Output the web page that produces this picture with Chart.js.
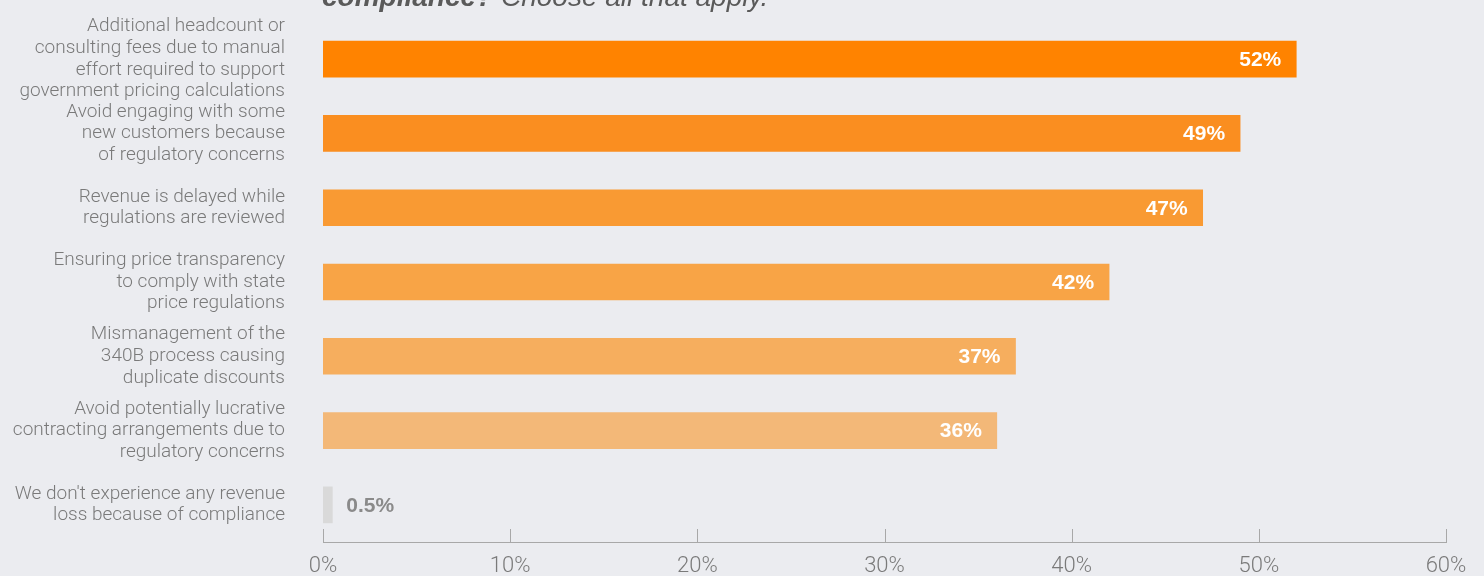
<!DOCTYPE html>
<html>
<head>
<meta charset="utf-8">
<script src="https://cdn.jsdelivr.net/npm/chart.js@4.4.1/dist/chart.umd.min.js"></script>
<style>
  html, body { margin: 0; padding: 0; background: #ebecf0; }
  #wrap { position: relative; width: 1484px; height: 576px; overflow: hidden; }
  #revenueLoss { display: block; }
  #question {
    position: absolute; left: 322px; top: -18px;
    font: italic 28px/30px "Liberation Sans", Arial, sans-serif;
    color: #5a5a5a; white-space: nowrap;
  }
  #question b { font-weight: bold; }
</style>
</head>
<body>
<div id="wrap">
  <div id="question"><b>compliance?</b> Choose all that apply.</div>
  <canvas id="revenueLoss" width="1484" height="576"></canvas>
</div>
<script>
var reasons = [
  ['Additional headcount or', 'consulting fees due to manual', 'effort required to support', 'government pricing calculations'],
  ['Avoid engaging with some', 'new customers because', 'of regulatory concerns'],
  ['Revenue is delayed while', 'regulations are reviewed'],
  ['Ensuring price transparency', 'to comply with state', 'price regulations'],
  ['Mismanagement of the', '340B process causing', 'duplicate discounts'],
  ['Avoid potentially lucrative', 'contracting arrangements due to', 'regulatory concerns'],
  ["We don't experience any revenue", 'loss because of compliance']
];
var shares = [52, 49, 47, 42, 37, 36, 0.5];
var barColors = ['#ff8300', '#fa8e20', '#f99a33', '#f8a446', '#f6ae5e', '#f3b878', '#d9d9d9'];
var axisTicks = [0, 10, 20, 30, 40, 50, 60];

// percent labels at the end of each bar, outside for the tiny one
var valueLabels = {
  id: 'valueLabels',
  afterDatasetsDraw: function ( chart ) {
    var ctx = chart.ctx;
    var meta = chart.getDatasetMeta( 0 );
    ctx.save();
    ctx.font = 'bold 21px "Liberation Sans", Arial, sans-serif';
    ctx.textBaseline = 'middle';
    meta.data.forEach( function ( bar, i ) {
      var v = shares[i];
      var txt = v + '%';
      if ( v < 5 ) {
        ctx.fillStyle = '#8a8a8a';
        ctx.textAlign = 'left';
        ctx.fillText( txt, bar.x + 14, bar.y + 1 );
      } else {
        ctx.fillStyle = '#ffffff';
        ctx.textAlign = 'right';
        ctx.fillText( txt, bar.x - 15, bar.y + 1 );
      }
    } );
    ctx.restore();
  }
};

// small tick marks standing up from the x axis line
var upTicks = {
  id: 'upTicks',
  afterDraw: function ( chart ) {
    var ctx = chart.ctx;
    var x = chart.scales.x;
    ctx.save();
    ctx.strokeStyle = '#a8a8a8';
    ctx.lineWidth = 1;
    axisTicks.forEach( function ( t ) {
      var px = Math.round( x.getPixelForValue( t ) ) + 0.5;
      ctx.beginPath();
      ctx.moveTo( px, x.top );
      ctx.lineTo( px, x.top - 13 );
      ctx.stroke();
    } );
    ctx.restore();
  }
};

var ctx = document.getElementById( 'revenueLoss' ).getContext( '2d' );
var myChart = new Chart( ctx, {
  type: 'bar',
  data: {
    labels: reasons,
    datasets: [
      {
        data: shares,
        backgroundColor: barColors,
        barThickness: 36,
        borderWidth: 0
      }
    ]
  },
  options: {
    indexAxis: 'y',
    responsive: false,
    animation: false,
    layout: { padding: { top: 22, right: 38, bottom: 0, left: 0 } },
    plugins: {
      legend: { display: false },
      tooltip: { enabled: false }
    },
    scales: {
      x: {
        min: 0,
        max: 60,
        afterBuildTicks: function ( s ) {
          s.ticks = axisTicks.map( function ( v ) { return { value: v }; } );
        },
        grid: { display: false, drawTicks: false },
        border: { display: true, color: '#a8a8a8', width: 1 },
        ticks: {
          padding: 11,
          maxRotation: 0,
          color: '#7a7a7a',
          font: { family: 'Roboto', size: 22, weight: '300' },
          callback: function ( v ) { return v + '%'; }
        },
        afterFit: function ( s ) {
          s.height = 34;
          s.paddingLeft = 0;
          s.paddingRight = 0;
        }
      },
      y: {
        grid: { display: false, drawTicks: false },
        border: { display: false },
        ticks: {
          autoSkip: false,
          padding: 38,
          color: '#7a7a7a',
          font: { family: 'Roboto', size: 19, lineHeight: 1.14, weight: '300' }
        },
        afterFit: function ( s ) {
          s.width = 323;
          s.paddingTop = 0;
          s.paddingBottom = 0;
        }
      }
    }
  },
  plugins: [valueLabels, upTicks]
} );
</script>
</body>
</html>
